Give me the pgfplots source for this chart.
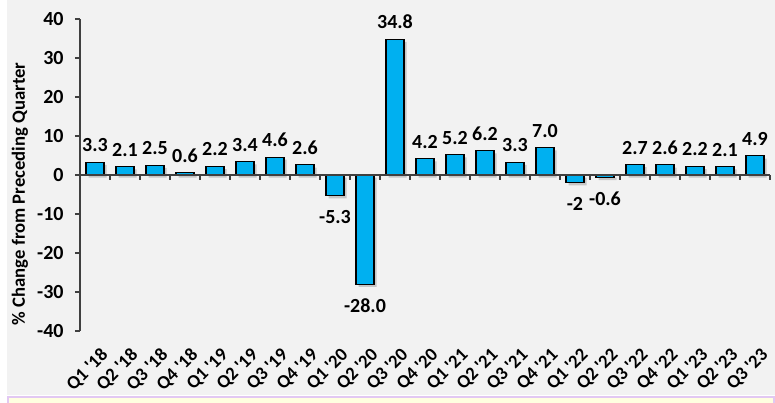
\documentclass[border=0pt]{standalone}
\usepackage{fontspec}
\setmainfont{Carlito}
\usepackage{pgfplots}
\pgfplotsset{compat=1.18}
\definecolor{barblue}{HTML}{00B0F0}
\definecolor{bggray}{HTML}{F2F2F2}
\definecolor{noteyellow}{HTML}{FFFFE0}
\definecolor{notepurple}{HTML}{E2C8F2}
\definecolor{axisgray}{HTML}{404040}
\def\PX{0.75pt}
\def\q{\textquotesingle}
\pgfplotstableread{
x y lab
0 3.3 3.3
1 2.1 2.1
2 2.5 2.5
3 0.6 0.6
4 2.2 2.2
5 3.4 3.4
6 4.6 4.6
7 2.6 2.6
10 34.8 34.8
11 4.2 4.2
12 5.2 5.2
13 6.2 6.2
14 3.3 3.3
15 7.0 7.0
18 2.7 2.7
19 2.6 2.6
20 2.2 2.2
21 2.1 2.1
22 4.9 4.9
}\pos
\pgfplotstableread{
x y lab
8 -5.3 -5.3
9 -28.0 -28.0
16 -2 -2
17 -0.6 -0.6
}\neg
\begin{document}
\begin{tikzpicture}
\clip (0,0) rectangle (775*\PX,-403*\PX);
\fill[white] (0,0) rectangle (775*\PX,-403*\PX);
\fill[bggray] (7*\PX,0) rectangle (775*\PX,-395*\PX);
\filldraw[fill=noteyellow, draw=notepurple, line width=1pt] (8*\PX,-397*\PX) rectangle (774*\PX,-412*\PX);
\begin{axis}[
  at={(80*\PX,-331*\PX)}, anchor=south west,
  scale only axis, width=517.5pt, height=234pt,
  xmin=-0.5, xmax=22.5, ymin=-40, ymax=40,
  axis y line*=left, axis x line*=bottom,
  x axis line style={draw=none},
  y axis line style={draw=axisgray, line width=0.8pt},
  ytick={-40,-30,...,40},
  ytick style={draw=axisgray, line width=0.8pt},
  tick align=outside, major tick length=3.75pt,
  xtick={0,...,22},
  xticklabels={Q1 \q18,Q2 \q18,Q3 \q18,Q4 \q18,Q1 \q19,Q2 \q19,Q3 \q19,Q4 \q19,Q1 \q20,Q2 \q20,Q3 \q20,Q4 \q20,Q1 \q21,Q2 \q21,Q3 \q21,Q4 \q21,Q1 \q22,Q2 \q22,Q3 \q22,Q4 \q22,Q1 \q23,Q2 \q23,Q3 \q23},
  xtick style={draw=none},
  xticklabel style={rotate=45, anchor=north east, font=\fontsize{14}{16}\selectfont\bfseries, inner sep=1pt, xshift=-2pt, yshift=-7pt},
  yticklabel style={font=\fontsize{15}{17}\selectfont\bfseries, xshift=-5pt},
  /pgf/number format/assume math mode=true,
  ylabel={\% Change from Preceding Quarter},
  ylabel style={font=\fontsize{14}{16}\selectfont\bfseries, at={(ticklabel cs:0.44)}},
  ybar, bar width=13.5pt, bar shift=0pt,
  clip=false,
]
% shadows
\addplot[fill=black, fill opacity=0.18, draw=none, xshift=2pt, yshift=-2pt] table[x=x,y=y] {\pos};
\addplot[fill=black, fill opacity=0.18, draw=none, xshift=2pt, yshift=-2pt] table[x=x,y=y] {\neg};
% bars
\addplot[fill=barblue, draw=black, line width=0.8pt,
  point meta=explicit symbolic, nodes near coords,
  nodes near coords style={font=\fontsize{15}{17}\selectfont\bfseries, text=black, anchor=south, yshift=4pt}]
  table[x=x,y=y,meta=lab] {\pos};
\addplot[fill=barblue, draw=black, line width=0.8pt,
  point meta=explicit symbolic, nodes near coords,
  nodes near coords style={font=\fontsize{15}{17}\selectfont\bfseries, text=black, anchor=north, yshift=-7pt}]
  table[x=x,y=y,meta=lab] {\neg};
\draw[axisgray, line width=0.8pt] (axis cs:-0.5,0) -- (axis cs:22.5,0);
\pgfplotsinvokeforeach{-0.5,0.5,...,22.5}{
  \draw[axisgray, line width=0.8pt] (axis cs:#1,0) -- ++(0pt,-3.75pt);
}
\end{axis}
\end{tikzpicture}
\end{document}
